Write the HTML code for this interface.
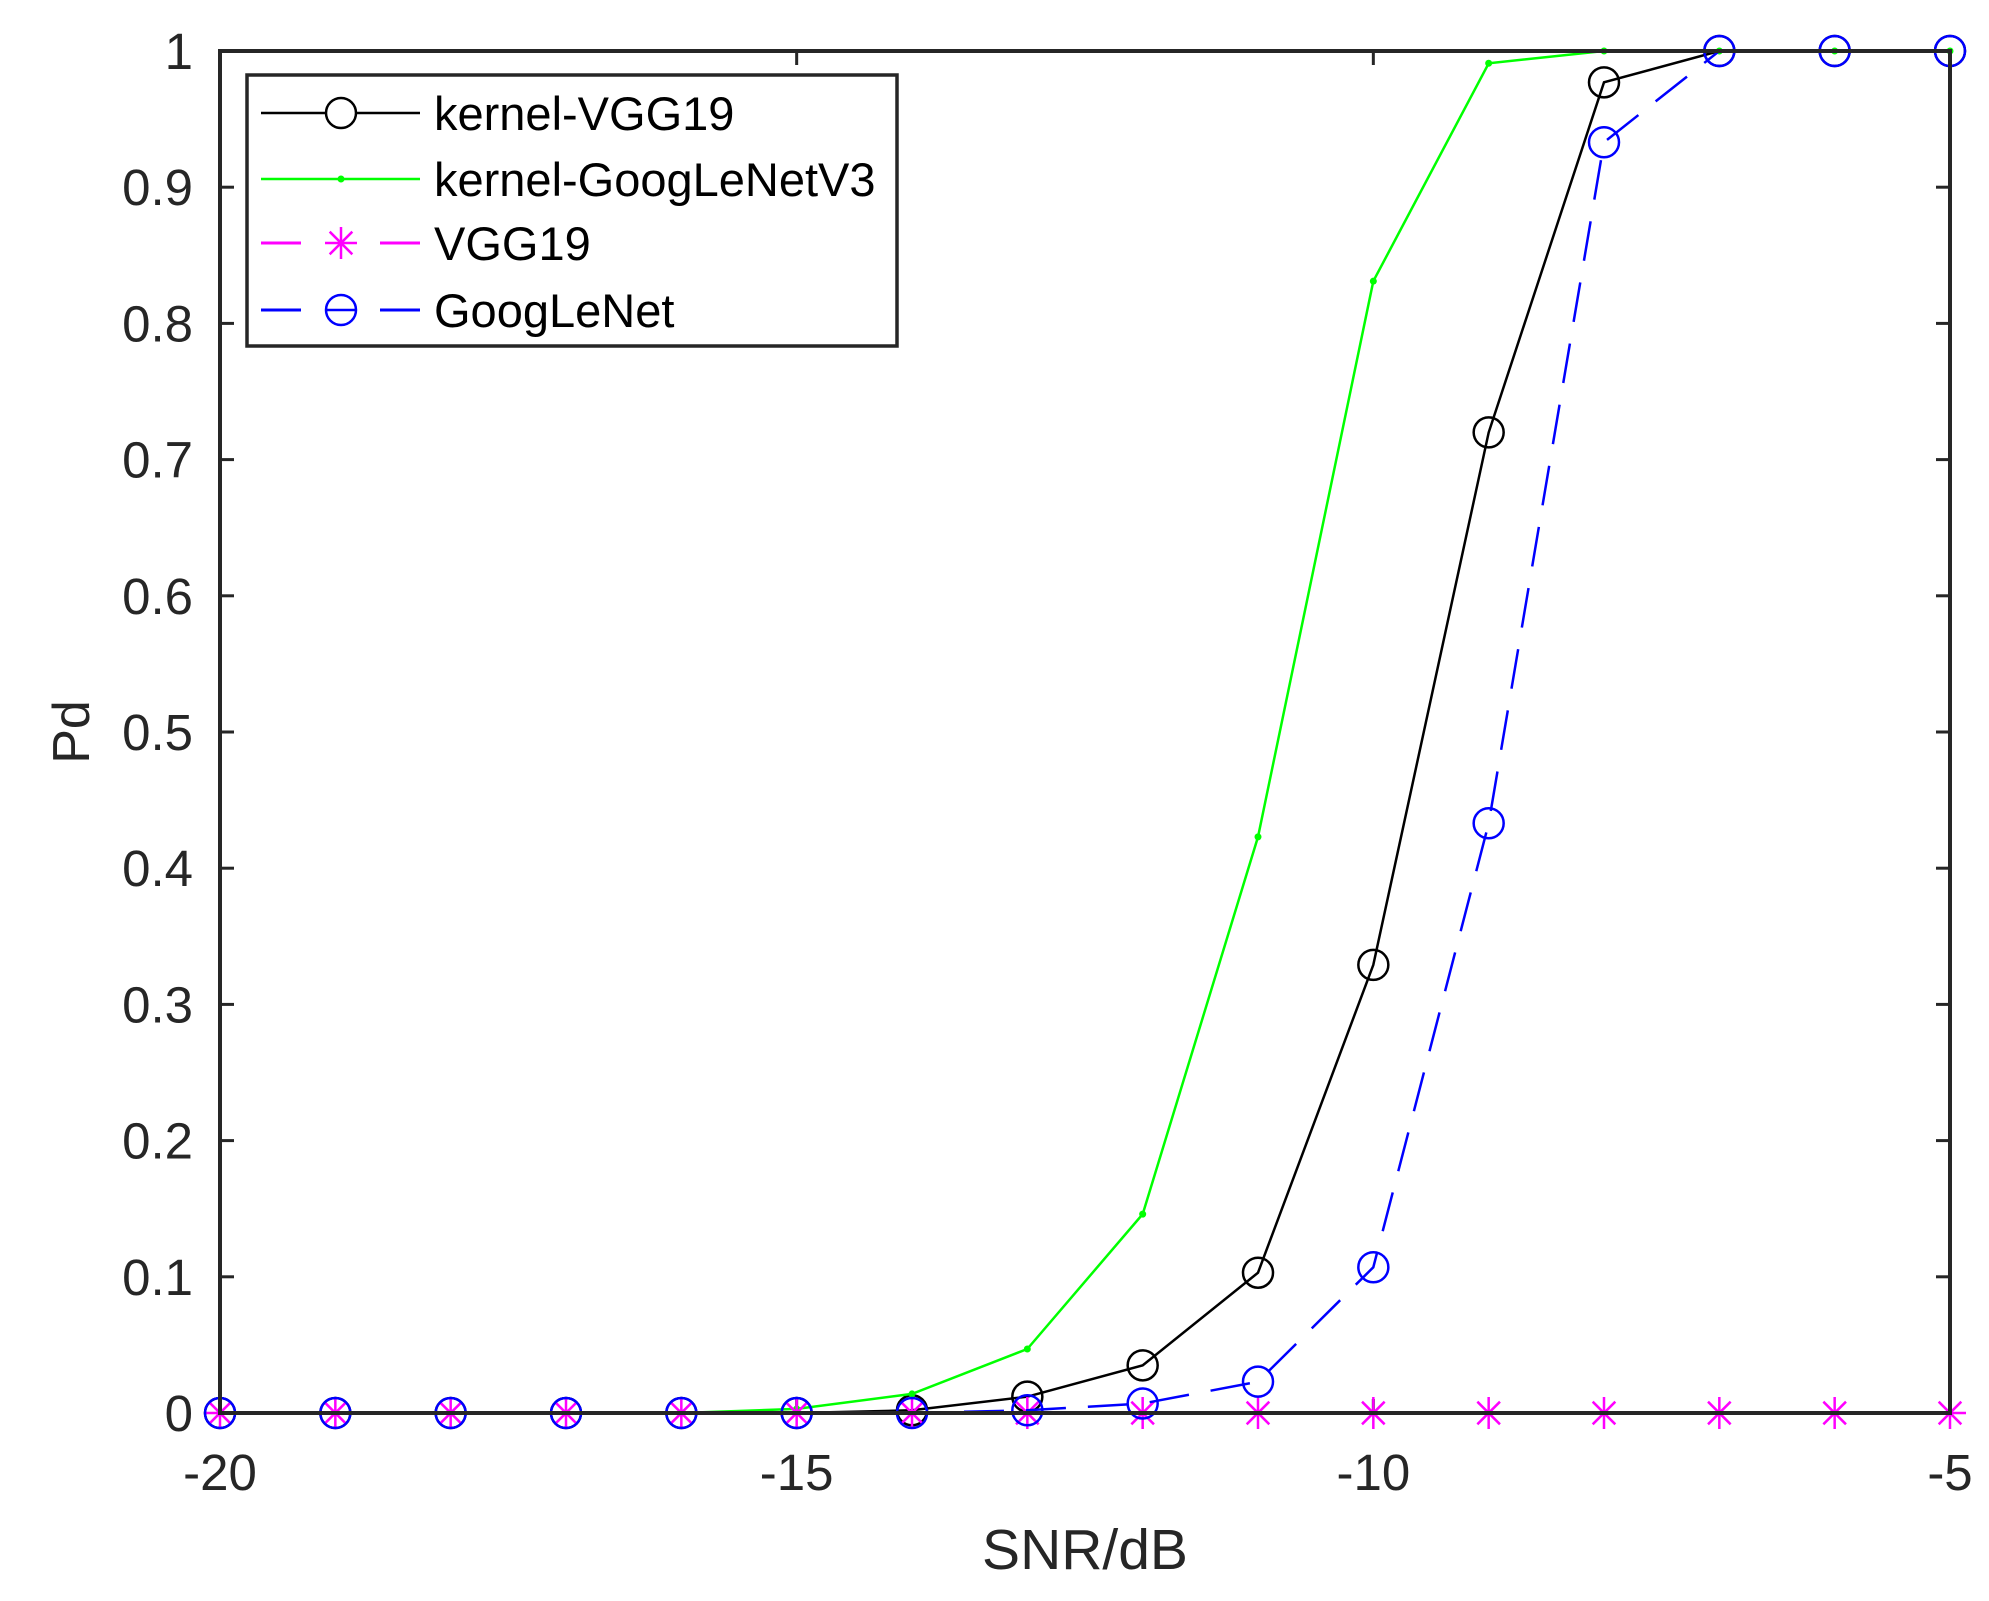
<!DOCTYPE html>
<html><head><meta charset="utf-8"><style>html,body{margin:0;padding:0;background:#fff}svg{display:block}</style></head>
<body>
<svg width="1989" height="1601" viewBox="0 0 1989 1601" xmlns="http://www.w3.org/2000/svg" font-family="Liberation Sans, Arial, sans-serif">
<rect width="1989" height="1601" fill="#fff"/>
<g id="plot"></g>
<script>
(function(){
const NS="http://www.w3.org/2000/svg";
const g=document.getElementById('plot');
const L=220,R=1950,T=51,B=1413;
const X=x=>L+(x+20)*(R-L)/15, Y=p=>B-p*(B-T);
function el(n,a,txt){const e=document.createElementNS(NS,n);for(const k in a)e.setAttribute(k,a[k]);if(txt!==undefined)e.textContent=txt;g.appendChild(e);return e;}
for(let i=0;i<=10;i++){const y=Y(i/10);
 el('line',{x1:L,y1:y,x2:L+14,y2:y,stroke:'#262626','stroke-width':3});
 el('line',{x1:R,y1:y,x2:R-14,y2:y,stroke:'#262626','stroke-width':3});
 el('text',{x:193,y:y+18,'font-size':51,'text-anchor':'end',fill:'#262626'},i==0?'0':i==10?'1':(i/10).toFixed(1));}
[-20,-15,-10,-5].forEach(v=>{const x=X(v);
 el('line',{x1:x,y1:B,x2:x,y2:B-14,stroke:'#262626','stroke-width':3});
 el('line',{x1:x,y1:T,x2:x,y2:T+14,stroke:'#262626','stroke-width':3});
 el('text',{x:x,y:1490,'font-size':51,'text-anchor':'middle',fill:'#262626'},String(v));});
el('text',{x:1085,y:1569,'font-size':57,'text-anchor':'middle',fill:'#262626'},'SNR/dB');
el('text',{x:0,y:0,'font-size':52,'text-anchor':'middle',fill:'#262626',transform:'translate(89,732) rotate(-90)'},'Pd');
const xs=[];for(let x=-20;x<=-5;x++)xs.push(x);
const kv=[0,0,0,0,0,0,0.002,0.012,0.035,0.103,0.329,0.72,0.977,1,1,1];
const gv=[0,0,0,0,0,0.003,0.014,0.047,0.146,0.423,0.831,0.991,1,1,1,1];
const bv=[0,0,0,0,0,0,0,0.002,0.007,0.023,0.107,0.433,0.933,1,1,1];
const mv=xs.map(()=>0);
const pts=v=>xs.map((x,i)=>X(x).toFixed(1)+','+Y(v[i]).toFixed(1)).join(' ');
function star(cx,cy,r,c){for(let a=0;a<4;a++){const t=a*Math.PI/4;el('line',{x1:cx-r*Math.cos(t),y1:cy-r*Math.sin(t),x2:cx+r*Math.cos(t),y2:cy+r*Math.sin(t),stroke:c,'stroke-width':2.5});}}
// black
el('polyline',{points:pts(kv),fill:'none',stroke:'#000','stroke-width':2.5});
xs.forEach((x,i)=>el('circle',{cx:X(x),cy:Y(kv[i]),r:15,fill:'none',stroke:'#000','stroke-width':2.5}));
// green
el('polyline',{points:pts(gv),fill:'none',stroke:'#00ff00','stroke-width':2.5});
xs.forEach((x,i)=>el('circle',{cx:X(x),cy:Y(gv[i]),r:3.5,fill:'#00ff00'}));
// magenta
el('polyline',{points:pts(mv),fill:'none',stroke:'#ff00ff','stroke-width':3,'stroke-dasharray':'40 22'});
xs.forEach((x,i)=>star(X(x),Y(mv[i]),16,'#ff00ff'));
// blue
el('polyline',{points:pts(bv),fill:'none',stroke:'#0000ff','stroke-width':2.5,'stroke-dasharray':'40 22'});
xs.forEach((x,i)=>el('circle',{cx:X(x),cy:Y(bv[i]),r:15,fill:'none',stroke:'#0000ff','stroke-width':2.5}));
el('rect',{x:L,y:T,width:R-L,height:B-T,fill:'none',stroke:'#262626','stroke-width':4});
// legend
el('rect',{x:247,y:75,width:650,height:271,fill:'#fff',stroke:'#262626','stroke-width':3.5});
const rows=[113,179,243,310];
el('line',{x1:261,y1:rows[0],x2:420,y2:rows[0],stroke:'#000','stroke-width':2.5});
el('circle',{cx:341,cy:rows[0],r:15,fill:'#fff',stroke:'#000','stroke-width':2.5});
el('line',{x1:261,y1:rows[1],x2:420,y2:rows[1],stroke:'#00ff00','stroke-width':2.5});
el('circle',{cx:341,cy:rows[1],r:3.5,fill:'#00ff00'});
el('line',{x1:261,y1:rows[2],x2:301,y2:rows[2],stroke:'#ff00ff','stroke-width':3});
el('line',{x1:380,y1:rows[2],x2:420,y2:rows[2],stroke:'#ff00ff','stroke-width':3});
star(341,rows[2],16,'#ff00ff');
el('line',{x1:261,y1:rows[3],x2:301,y2:rows[3],stroke:'#0000ff','stroke-width':3});
el('line',{x1:380,y1:rows[3],x2:420,y2:rows[3],stroke:'#0000ff','stroke-width':3});
el('circle',{cx:341,cy:rows[3],r:15,fill:'none',stroke:'#0000ff','stroke-width':2.5});
el('line',{x1:326,y1:rows[3],x2:356,y2:rows[3],stroke:'#0000ff','stroke-width':2.5});
['kernel-VGG19','kernel-GoogLeNetV3','VGG19','GoogLeNet'].forEach((t,i)=>el('text',{x:434,y:rows[i]+17,'font-size':47,fill:'#000'},t));
})();
</script>
</svg>
</body></html>
